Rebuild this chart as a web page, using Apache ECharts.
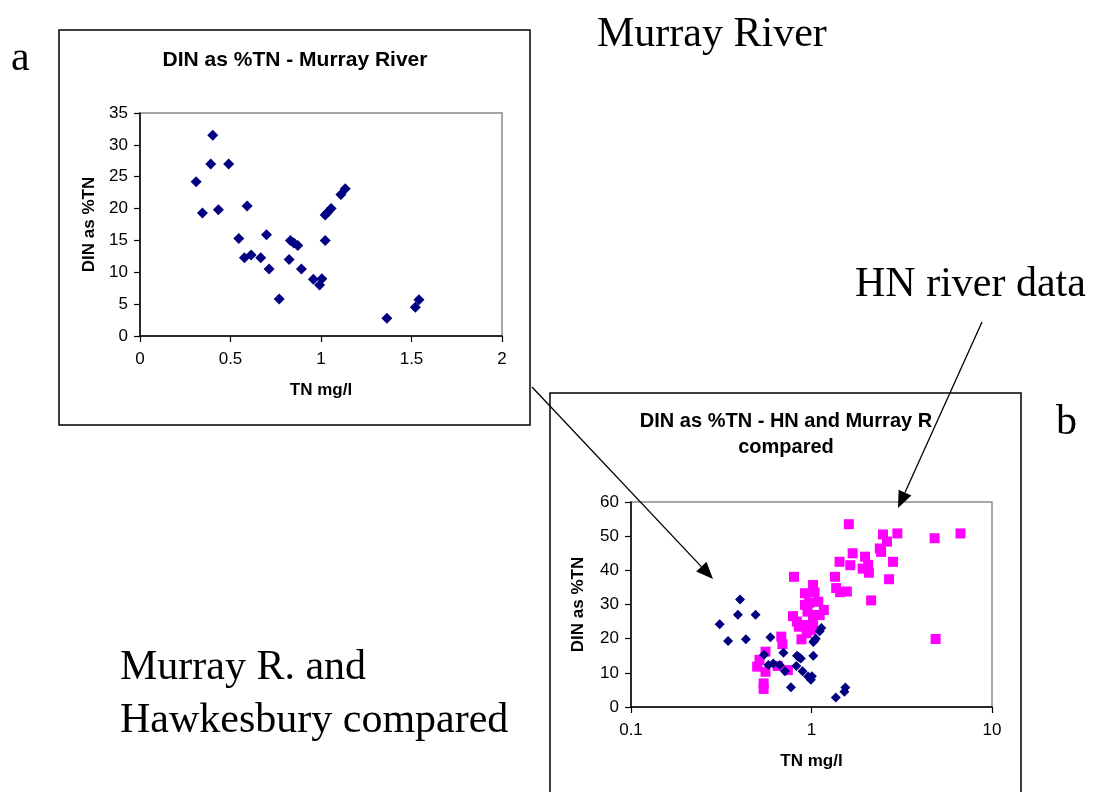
<!DOCTYPE html>
<html>
<head>
<meta charset="utf-8">
<script src="https://cdn.jsdelivr.net/npm/echarts@6/dist/echarts.min.js"></script>
<style>
  html, body { margin: 0; padding: 0; background: #fff; }
  #chart { width: 1094px; height: 792px; }
</style>
</head>
<body>
<div id="chart"></div>
<script>
// Murray River samples: total nitrogen (mg/l) and DIN as % of TN
const murrayTN  = [0.310, 0.345, 0.391, 0.402, 0.433, 0.490, 0.546, 0.577, 0.592, 0.614, 0.667,
                   0.699, 0.713, 0.769, 0.824, 0.831, 0.850, 0.872, 0.892, 0.958, 0.992, 1.005,
                   1.023, 1.023, 1.036, 1.056, 1.110, 1.134, 1.364, 1.521, 1.541];
const murrayDIN = [24.2, 19.3, 27.0, 31.5, 19.8, 27.0, 15.3, 12.3, 20.4, 12.7, 12.3,
                   15.9, 10.5, 5.8, 12.0, 15.0, 14.6, 14.2, 10.5, 8.9, 8.0, 9.0,
                   15.0, 19.0, 19.4, 20.0, 22.2, 23.1, 2.8, 4.5, 5.7];

// Hawkesbury-Nepean (HN) river samples
const hnTN  = [1.61, 2.49, 2.99, 2.62, 2.39, 2.43, 2.83, 2.69, 2.14, 4.81, 6.69, 4.87, 1.69,
               1.64, 1.43, 1.35, 1.37, 1.44, 1.57, 1.98, 2.06, 1.92, 2.08, 0.80, 1.02, 0.92,
               1.04, 0.92, 1.09, 1.17, 0.79, 0.83, 0.95, 1.02, 1.11, 0.91, 1.02, 0.94, 0.88,
               0.68, 0.69, 0.556, 0.515, 0.50, 0.556, 0.543, 0.543, 0.65, 0.74, 1.00, 0.97, 0.85];
const hnDIN = [53.5, 50.5, 50.8, 48.4, 46.4, 45.4, 42.5, 37.4, 31.2, 49.4, 50.8, 19.9, 45.0,
               41.5, 42.5, 38.1, 34.8, 33.6, 33.8, 44.0, 41.6, 40.5, 39.3, 38.1, 35.7, 33.3,
               33.5, 29.9, 30.8, 28.4, 26.6, 25.0, 27.9, 26.9, 26.9, 24.0, 24.0, 21.6, 19.8,
               20.6, 18.4, 16.2, 13.8, 11.8, 10.3, 6.9, 5.3, 12.0, 10.8, 22.5, 30.5, 23.5];

// Axis ranges and tick labels
const xTicksA = [0, 0.5, 1, 1.5, 2];
const yTicksA = [0, 5, 10, 15, 20, 25, 30, 35];
const xTicksB = [0.1, 1, 10];
const yTicksB = [0, 10, 20, 30, 40, 50, 60];

const pairs = (xs, ys) => xs.map((x, i) => [x, ys[i]]);

const SANS = "'Liberation Sans', Arial, sans-serif";
const SERIF = "'Liberation Serif', 'Times New Roman', serif";
const NAVY = '#000080';
const MAGENTA = '#FF00FF';

function axisCommon() {
  return {
    axisLine: { show: true, onZero: false, lineStyle: { color: '#000', width: 1.5 } },
    axisTick: { show: true, inside: false, length: 6, lineStyle: { color: '#000', width: 1.2 } },
    splitLine: { show: false },
    nameTextStyle: { fontFamily: SANS, fontWeight: 'bold', fontSize: 17, color: '#000' },
    axisLabel: { fontFamily: SANS, fontSize: 17, color: '#000' }
  };
}

// Arrow: a straight line ending in a filled triangular head
function arrow(x1, y1, x2, y2) {
  const ang = Math.atan2(y2 - y1, x2 - x1);
  const len = 17, half = 7;
  const bx = x2 - len * Math.cos(ang), by = y2 - len * Math.sin(ang);
  const px = -Math.sin(ang) * half, py = Math.cos(ang) * half;
  return [
    { type: 'line', z: 100, shape: { x1: x1, y1: y1, x2: bx, y2: by },
      style: { stroke: '#000', lineWidth: 1.3 } },
    { type: 'polygon', z: 100,
      shape: { points: [[x2, y2], [bx + px, by + py], [bx - px, by - py]] },
      style: { fill: '#000' } }
  ];
}

function label(text, x, y, font, align, valign) {
  return { type: 'text', z: 50, style: {
    text: text, x: x, y: y, font: font, fill: '#000',
    textAlign: align || 'left', textVerticalAlign: valign || 'top' } };
}

const chart = echarts.init(document.getElementById('chart'), null, { renderer: 'canvas' });

const xA = Object.assign(axisCommon(), {
  gridIndex: 0, type: 'value', min: 0, max: 2, interval: 0.5,
  name: 'TN mg/l', nameLocation: 'middle', nameGap: 46,
  axisLabel: Object.assign(axisCommon().axisLabel, { margin: 15,
    formatter: v => xTicksA.includes(v) ? String(v) : '' })
});
const yA = Object.assign(axisCommon(), {
  gridIndex: 0, type: 'value', min: 0, max: 35, interval: 5,
  name: 'DIN as %TN', nameLocation: 'middle', nameGap: 42,
  axisLabel: Object.assign(axisCommon().axisLabel, { margin: 12,
    formatter: v => yTicksA.includes(v) ? String(v) : '' })
});
const xB = Object.assign(axisCommon(), {
  gridIndex: 1, type: 'log', logBase: 10, min: 0.1, max: 10,
  name: 'TN mg/l', nameLocation: 'middle', nameGap: 46,
  minorTick: { show: false },
  axisLabel: Object.assign(axisCommon().axisLabel, { margin: 15,
    formatter: v => {
      const t = xTicksB.find(k => Math.abs(k - v) < 1e-9);
      return t === undefined ? '' : String(t);
    } })
});
const yB = Object.assign(axisCommon(), {
  gridIndex: 1, type: 'value', min: 0, max: 60, interval: 10,
  name: 'DIN as %TN', nameLocation: 'middle', nameGap: 44,
  axisLabel: Object.assign(axisCommon().axisLabel, { margin: 12,
    formatter: v => yTicksB.includes(v) ? String(v) : '' })
});

const option = {
  animation: false,
  backgroundColor: '#fff',
  grid: [
    { left: 140, top: 113, width: 362, height: 223, show: true,
      borderColor: '#8a8a8a', borderWidth: 1.5, backgroundColor: 'transparent' },
    { left: 631, top: 502, width: 361, height: 205, show: true,
      borderColor: '#8a8a8a', borderWidth: 1.5, backgroundColor: 'transparent' }
  ],
  xAxis: [xA, xB],
  yAxis: [yA, yB],
  series: [
    { name: 'Murray River', type: 'scatter', xAxisIndex: 0, yAxisIndex: 0,
      data: pairs(murrayTN, murrayDIN), symbol: 'diamond', symbolSize: 11,
      itemStyle: { color: NAVY, opacity: 1 } },
    { name: 'HN river', type: 'scatter', xAxisIndex: 1, yAxisIndex: 1,
      data: pairs(hnTN, hnDIN), symbol: 'rect', symbolSize: 10,
      itemStyle: { color: MAGENTA, opacity: 1 }, z: 2 },
    { name: 'Murray River', type: 'scatter', xAxisIndex: 1, yAxisIndex: 1,
      data: pairs(murrayTN, murrayDIN), symbol: 'diamond', symbolSize: 10,
      itemStyle: { color: NAVY, opacity: 1 }, z: 3 }
  ],
  graphic: [
    // chart frames
    { type: 'rect', z: -1, shape: { x: 59, y: 30, width: 471, height: 395 },
      style: { fill: '#fff', stroke: '#000', lineWidth: 1.5 } },
    { type: 'rect', z: -1, shape: { x: 550, y: 393, width: 471, height: 420 },
      style: { fill: '#fff', stroke: '#000', lineWidth: 1.5 } },
    // chart titles
    label('DIN as %TN - Murray River', 295, 60, 'bold 21px ' + SANS, 'center', 'middle'),
    label('DIN as %TN - HN and Murray R', 786, 421, 'bold 20px ' + SANS, 'center', 'middle'),
    label('compared', 786, 447, 'bold 20px ' + SANS, 'center', 'middle'),
    // panel letters and captions
    label('a', 11, 38, '42px ' + SERIF),
    label('b', 1056, 402, '42px ' + SERIF),
    label('Murray River', 597, 14, '42px ' + SERIF),
    label('HN river data', 855, 264, '42px ' + SERIF),
    label('Murray R. and', 120, 647, '42px ' + SERIF),
    label('Hawkesbury compared', 120, 700, '42px ' + SERIF)
  ].concat(arrow(532, 387, 713, 579), arrow(982, 322, 898, 508))
};

chart.setOption(option);
</script>
</body>
</html>
